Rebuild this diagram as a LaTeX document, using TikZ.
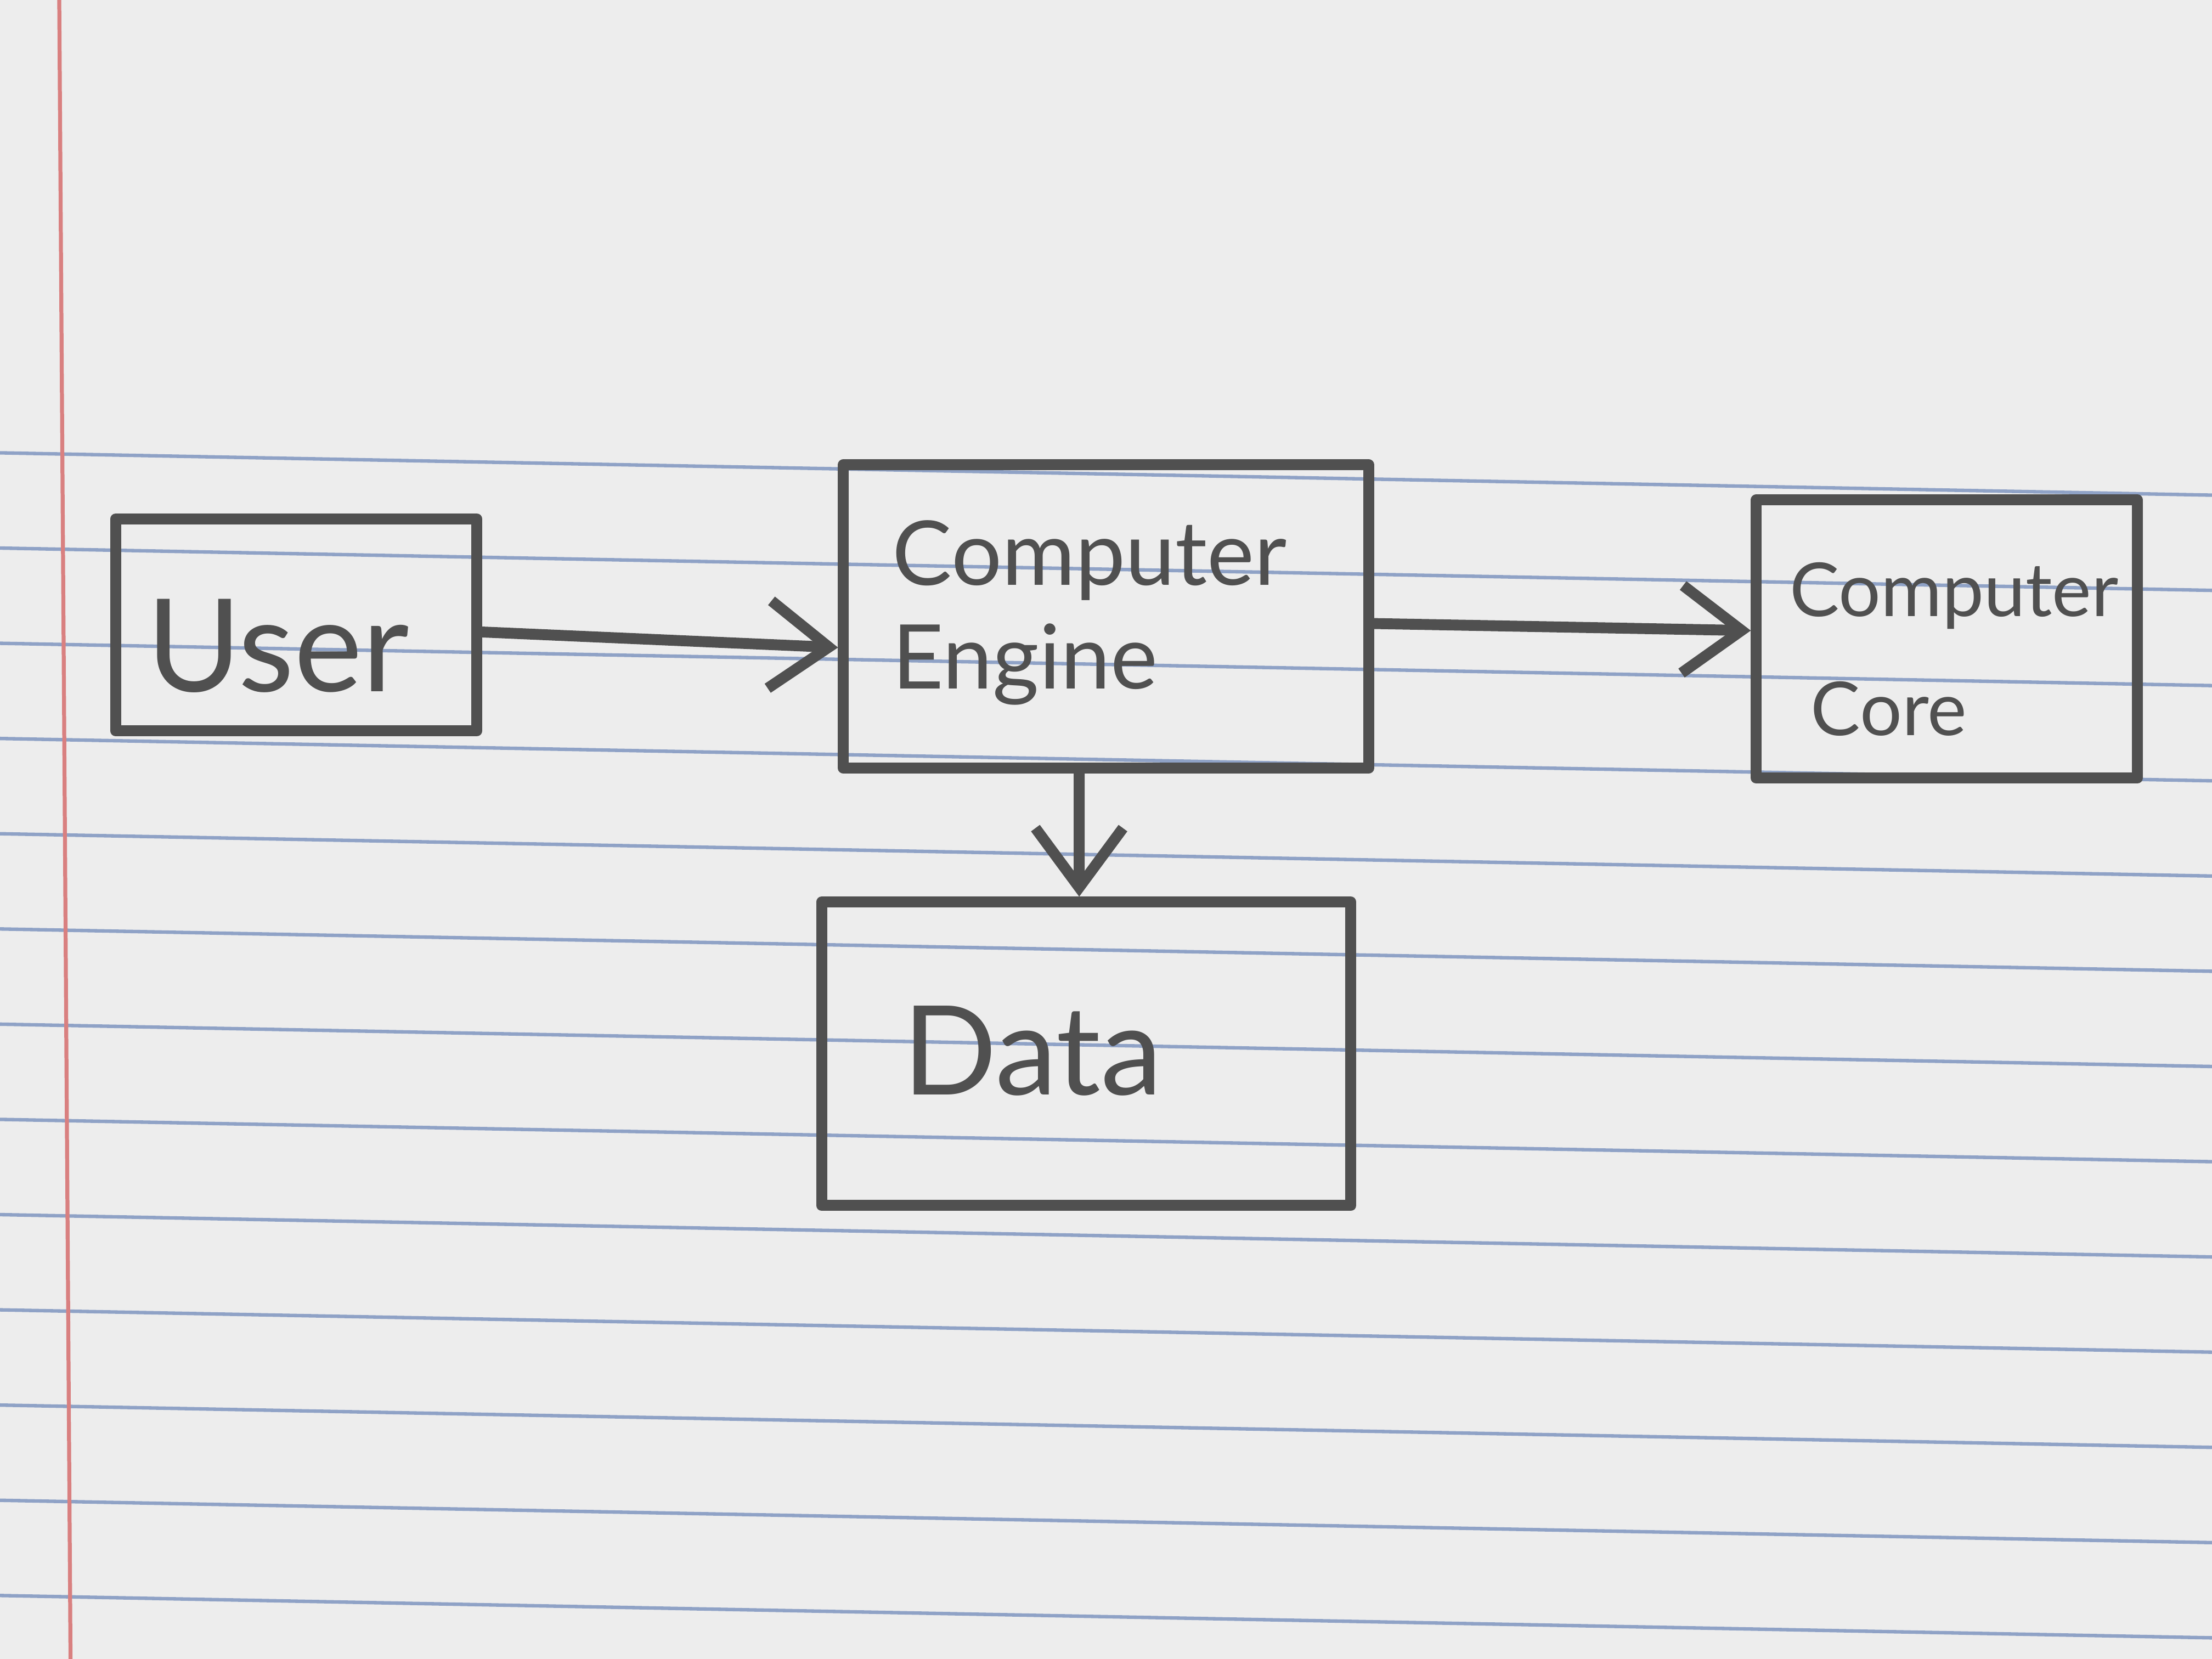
\documentclass[tikz,border=0pt]{standalone}
\usepackage{fontspec}
\setmainfont{Lato}
\usetikzlibrary{arrows.meta}
\definecolor{pencil}{HTML}{505050}
\definecolor{paper}{HTML}{EDEDED}
\definecolor{rule}{HTML}{8FA2C6}
\definecolor{margin}{HTML}{D98080}
\begin{document}
\begin{tikzpicture}[x=0.01cm,y=-0.01cm]
\tikzset{
  pbox/.style={draw=pencil, line width=2.2pt, line join=round, inner sep=0pt},
  plabel/.style={text=pencil, inner sep=0pt, align=left},
  parrow/.style={draw=pencil, line width=2.2pt, line cap=round,
    -{Straight Barb[length=0.42cm, width=0.62cm, line width=2.2pt]}}
}
% paper
\fill[paper] (0,0) rectangle (1568,1176);
\useasboundingbox (0,0) rectangle (1568,1176);
\foreach \k in {0,...,13}{
  \draw[rule, line width=0.7pt] (0,{321+67.5*\k}) -- (1568,{351+67.5*\k});
}
\draw[margin, line width=0.8pt] (42,0) -- (50,1176);

% boxes
\node[pbox, minimum width=2.56cm, minimum height=1.50cm] (user) at (210,443) {};
\node[pbox, minimum width=3.72cm, minimum height=2.15cm] (engine) at (784,437) {};
\node[pbox, minimum width=2.70cm, minimum height=1.97cm] (core) at (1380,453) {};
\node[pbox, minimum width=3.75cm, minimum height=2.15cm] (data) at (770,747) {};

% labels
\node[plabel, font=\fontsize{26pt}{30pt}\selectfont] (userlbl) at (197,458) {User};
\node[plabel, anchor=north west, font=\fontsize{18pt}{21pt}\selectfont] (enginelbl) at (632,368) {Computer\\Engine};
\node[plabel, anchor=north west, font=\fontsize{15pt}{24pt}\selectfont] (corelbl) at (1268,398) {Computer\\\hspace{0.15cm}Core};
\node[plabel, font=\fontsize{25pt}{30pt}\selectfont] (datalbl) at (732,745) {Data};

% connectors
\draw[parrow] ([yshift=-0.05cm]user.east) -- ([yshift=-0.22cm]engine.west);
\draw[parrow] ([yshift=-0.05cm]engine.east) -- ([yshift=0.06cm]core.west);
\draw[parrow] ([xshift=-0.19cm]engine.south) -- ([xshift=-0.05cm]data.north);
\end{tikzpicture}
\end{document}
